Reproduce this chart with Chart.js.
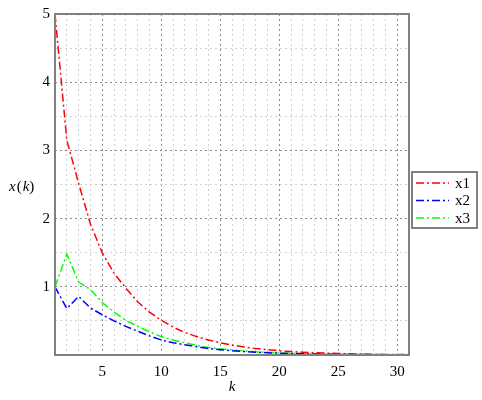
<!DOCTYPE html>
<html>
<head>
<meta charset="utf-8">
<script src="https://cdn.jsdelivr.net/npm/chart.js@4"></script>
<style>
  html, body { margin: 0; padding: 0; background: #fff; }
  #wrap { width: 482px; height: 400px; }
</style>
</head>
<body>
<div id="wrap"><canvas id="grafica"></canvas></div>
<script>
// datos
const k = [1,2,3,4,5,6,7,8,9,10,11,12,13,14,15,16,17,18,19,20,21,22,23,24,25,26,27,28,29,30,31];
const x1 = [5, 3.15, 2.52, 1.92, 1.5, 1.2, 0.98, 0.78, 0.63, 0.51, 0.41, 0.33, 0.27, 0.22, 0.18, 0.145, 0.118, 0.095, 0.077, 0.062, 0.05, 0.041, 0.033, 0.027, 0.022, 0.018, 0.014, 0.012, 0.009, 0.008, 0.006];
const x2 = [1, 0.68, 0.86, 0.69, 0.59, 0.5, 0.42, 0.35, 0.28, 0.22, 0.18, 0.15, 0.12, 0.095, 0.077, 0.062, 0.05, 0.041, 0.033, 0.027, 0.022, 0.018, 0.014, 0.012, 0.009, 0.008, 0.006, 0.005, 0.004, 0.003, 0.003];
const x3 = [1, 1.48, 1.07, 0.96, 0.77, 0.63, 0.51, 0.42, 0.34, 0.27, 0.22, 0.18, 0.14, 0.11, 0.09, 0.073, 0.059, 0.048, 0.039, 0.031, 0.025, 0.02, 0.016, 0.013, 0.011, 0.009, 0.007, 0.006, 0.005, 0.004, 0.003];
const nombres = ['x1', 'x2', 'x3'];
const colores = ['#ff0000', '#0000ff', '#00ff00'];

const fuente = '"Liberation Serif", "DejaVu Serif", serif';
const guion = [8, 3, 2, 3];

function puntos(serie) {
    return k.map((v, i) => ({ x: v, y: serie[i] }));
}

// marco gris alrededor del area
const marco = {
    id: 'marco',
    afterDatasetsDraw(chart) {
        const a = chart.chartArea, ctx = chart.ctx;
        ctx.save();
        ctx.strokeStyle = '#808080';
        ctx.lineWidth = 2;
        ctx.strokeRect(a.left, a.top, a.right - a.left, a.bottom - a.top);
        ctx.restore();
    }
};

// leyenda con caja y lineas punto-raya
const leyenda = {
    id: 'leyenda',
    afterDraw(chart) {
        const ctx = chart.ctx;
        const bx = chart.chartArea.right + 3, by = 172, bw = 65, bh = 56;
        ctx.save();
        ctx.strokeStyle = '#808080';
        ctx.lineWidth = 2;
        ctx.strokeRect(bx, by, bw, bh);
        chart.data.datasets.forEach((ds, i) => {
            const y = by + 11 + i * 17.5;
            ctx.strokeStyle = ds.borderColor;
            ctx.lineWidth = 1.5;
            ctx.setLineDash(guion);
            ctx.beginPath();
            ctx.moveTo(bx + 4, y);
            ctx.lineTo(bx + 37, y);
            ctx.stroke();
            ctx.setLineDash([]);
            ctx.fillStyle = '#000';
            ctx.font = '15px ' + fuente;
            ctx.textBaseline = 'middle';
            ctx.fillText(ds.label, bx + 43, y + 1);
        });
        // titulo del eje y: x(k)
        ctx.fillStyle = '#000';
        ctx.textBaseline = 'middle';
        let tx = 9;
        const ty = 187;
        [['x', 'italic '], ['(', ''], ['k', 'italic '], [')', '']].forEach(p => {
            ctx.font = p[1] + '15px ' + fuente;
            ctx.fillText(p[0], tx, ty);
            tx += ctx.measureText(p[0]).width + (p[0] === '(' || p[0] === 'x' ? 1 : 0);
        });
        ctx.restore();
    }
};

const ctx = document.getElementById('grafica').getContext('2d');
new Chart(ctx, {
    type: 'line',
    data: {
        datasets: [x1, x2, x3].map((s, i) => ({
            label: nombres[i],
            data: puntos(s),
            borderColor: colores[i],
            borderWidth: 1.5,
            borderDash: guion,
            pointRadius: 0,
            tension: 0,
            fill: false
        }))
    },
    options: {
        responsive: true,
        maintainAspectRatio: false,
        animation: false,
        layout: { padding: { top: 6, right: 73, left: 0, bottom: 0 } },
        plugins: { legend: { display: false }, tooltip: { enabled: false } },
        scales: {
            x: {
                type: 'linear',
                min: 1,
                max: 31,
                afterFit: s => { s.height = 45; },
                ticks: {
                    stepSize: 1,
                    autoSkip: false,
                    maxRotation: 0,
                    padding: 8,
                    color: '#000',
                    font: { family: fuente, size: 15 },
                    callback: v => (v % 5 === 0 ? String(v) : '')
                },
                grid: {
                    drawTicks: false,
                    lineWidth: 1,
                    color: c => (c.tick && c.tick.value % 5 === 0 ? '#8c8c8c' : '#d0d0d0')
                },
                border: { display: false, dash: [2, 3] },
                title: {
                    display: true,
                    text: 'k',
                    color: '#000',
                    font: { family: fuente, size: 15, style: 'italic' }
                }
            },
            y: {
                min: 0,
                max: 5,
                afterFit: s => { s.width = 55; },
                ticks: {
                    stepSize: 0.5,
                    autoSkip: false,
                    padding: 5,
                    color: '#000',
                    font: { family: fuente, size: 15 },
                    callback: v => (v > 0 && Number.isInteger(v) ? String(v) : '')
                },
                grid: {
                    drawTicks: false,
                    lineWidth: 1,
                    color: c => (c.tick && Number.isInteger(c.tick.value) ? '#8c8c8c' : '#d0d0d0')
                },
                border: { display: false, dash: [2, 3] }
            }
        }
    },
    plugins: [marco, leyenda]
});
</script>
</body>
</html>
